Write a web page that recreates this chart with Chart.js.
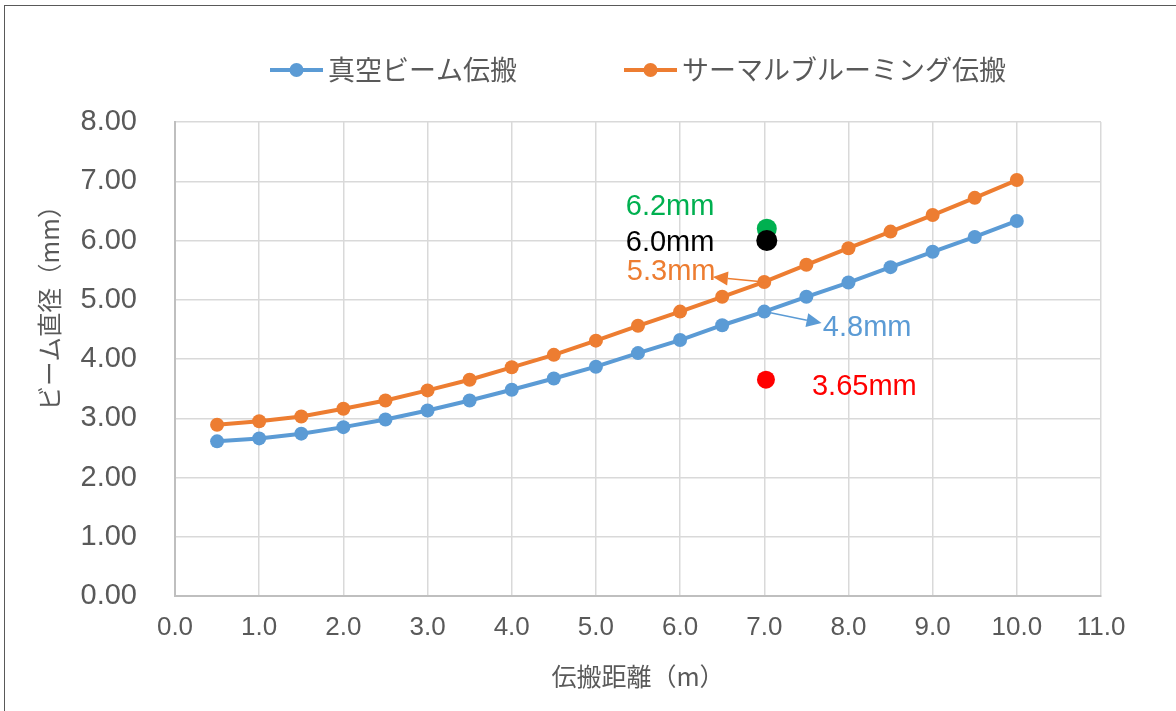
<!DOCTYPE html>
<html>
<head>
<meta charset="utf-8">
<script src="https://cdn.jsdelivr.net/npm/chart.js@4.4.1/dist/chart.umd.min.js"></script>
<style>
  html, body { margin: 0; padding: 0; background: #ffffff; }
  canvas { display: block; }
</style>
</head>
<body>
<canvas id="c" width="1176" height="711"></canvas>
<script>
// Propagation distance (m)
const distances = [0.5, 1.0, 1.5, 2.0, 2.5, 3.0, 3.5, 4.0, 4.5, 5.0, 5.5, 6.0, 6.5, 7.0, 7.5, 8.0, 8.5, 9.0, 9.5, 10.0];
// Beam diameter (mm), vacuum propagation
const vacuumDiam = [2.61, 2.66, 2.74, 2.85, 2.98, 3.13, 3.30, 3.48, 3.67, 3.87, 4.10, 4.32, 4.57, 4.80, 5.05, 5.29, 5.55, 5.81, 6.06, 6.33];
// Beam diameter (mm), thermal blooming propagation
const bloomDiam = [2.89, 2.95, 3.03, 3.16, 3.30, 3.47, 3.65, 3.86, 4.07, 4.31, 4.56, 4.80, 5.05, 5.30, 5.59, 5.87, 6.15, 6.43, 6.72, 7.02];
// Measured spots near 7 m
const measuredX = [7.03, 7.03, 7.02];
const measuredY = [6.0, 6.2, 3.65];   // black, green, red

const seriesNames = ['真空ビーム伝搬', 'サーマルブルーミング伝搬'];
const xTitle = '伝搬距離（m）';
const yTitle = 'ビーム直径（mm）';

const TEXT = '#595959';
const JP = '"Noto Sans CJK JP", "Noto Sans", sans-serif';
const LAT = '"Liberation Sans", Arial, sans-serif';
const BLUE = '#5b9bd5', ORANGE = '#ed7d31', GREEN = '#00b050', BLACK = '#000000', RED = '#ff0000';

const xy = (xs, ys) => xs.map((x, i) => ({ x, y: ys[i] }));

// White page plus the thin outer frame
const frame = {
  id: 'frame',
  beforeDraw(chart) {
    const c = chart.ctx;
    c.save();
    c.fillStyle = '#ffffff';
    c.fillRect(0, 0, chart.width, chart.height);
    c.strokeStyle = '#595959';
    c.lineWidth = 1;
    c.strokeRect(4.5, 5.5, chart.width + 20, chart.height + 20);
    c.restore();
  }
};

// Legend with line + marker symbols, centred over the plot area
const seriesLegend = {
  id: 'seriesLegend',
  afterDraw(chart, args, o) {
    const c = chart.ctx;
    c.save();
    c.font = `${o.size}px ${JP}`;
    c.textBaseline = 'middle';
    c.textAlign = 'left';
    const items = o.datasets.map(i => {
      const ds = chart.data.datasets[i];
      return { ds, w: o.sym + o.gap + c.measureText(ds.label).width };
    });
    const total = items.reduce((s, it) => s + it.w, 0) + o.spacing * (items.length - 1);
    let x = (chart.chartArea.left + chart.chartArea.right) / 2 - total / 2 + o.shift;
    const y = o.y;
    items.forEach(it => {
      c.strokeStyle = it.ds.borderColor;
      c.lineWidth = it.ds.borderWidth;
      c.beginPath(); c.moveTo(x, y); c.lineTo(x + o.sym, y); c.stroke();
      c.fillStyle = it.ds.pointBackgroundColor;
      c.beginPath(); c.arc(x + o.sym / 2, y, it.ds.pointRadius, 0, Math.PI * 2); c.fill();
      c.fillStyle = TEXT;
      c.fillText(it.ds.label, x + o.sym + o.gap, y + o.textDy);
      x += it.w + o.spacing;
    });
    c.restore();
  }
};

// Vertical y-axis title
const yAxisTitle = {
  id: 'yAxisTitle',
  afterDraw(chart, args, o) {
    const c = chart.ctx;
    c.save();
    c.translate(o.x, o.y);
    c.rotate(-Math.PI / 2);
    c.font = `${o.size}px ${JP}`;
    c.fillStyle = TEXT;
    c.textAlign = 'center';
    c.textBaseline = 'middle';
    c.fillText(o.text, 0, 0);
    c.restore();
  }
};

// Value call-outs, optionally with an arrow from the marker
const callouts = {
  id: 'callouts',
  afterDatasetsDraw(chart, args, o) {
    const c = chart.ctx;
    c.save();
    c.font = `${o.size}px ${LAT}`;
    c.textBaseline = 'middle';
    c.textAlign = 'left';
    o.items.forEach(it => {
      const p = chart.getDatasetMeta(it.dataset).data[it.index];
      if (it.tip) {
        const tx = p.x + it.tip[0], ty = p.y + it.tip[1];
        const a = Math.atan2(ty - p.y, tx - p.x);
        const bx = tx - o.head * Math.cos(a), by = ty - o.head * Math.sin(a);
        c.strokeStyle = it.color;
        c.lineWidth = o.arrowWidth;
        c.beginPath(); c.moveTo(p.x, p.y); c.lineTo(bx, by); c.stroke();
        c.fillStyle = it.color;
        c.beginPath();
        c.moveTo(tx, ty);
        c.lineTo(bx - o.headW * Math.sin(a), by + o.headW * Math.cos(a));
        c.lineTo(bx + o.headW * Math.sin(a), by - o.headW * Math.cos(a));
        c.closePath(); c.fill();
      }
      c.fillStyle = it.color;
      c.fillText(it.text, p.x + it.dx, p.y + it.dy);
    });
    c.restore();
  }
};

const iSeven = distances.indexOf(7.0);

new Chart(document.getElementById('c'), {
  type: 'scatter',
  data: {
    datasets: [
      { label: seriesNames[0], data: xy(distances, vacuumDiam), showLine: true,
        borderColor: BLUE, backgroundColor: BLUE, borderWidth: 4,
        pointBackgroundColor: BLUE, pointBorderColor: BLUE, pointBorderWidth: 0, pointRadius: 7 },
      { label: seriesNames[1], data: xy(distances, bloomDiam), showLine: true,
        borderColor: ORANGE, backgroundColor: ORANGE, borderWidth: 4,
        pointBackgroundColor: ORANGE, pointBorderColor: ORANGE, pointBorderWidth: 0, pointRadius: 7 },
      { label: 'black', data: [{ x: measuredX[0], y: measuredY[0] }],
        pointBackgroundColor: BLACK, pointBorderColor: BLACK, pointBorderWidth: 0, pointRadius: 10.5 },
      { label: 'green', data: [{ x: measuredX[1], y: measuredY[1] }],
        pointBackgroundColor: GREEN, pointBorderColor: GREEN, pointBorderWidth: 0, pointRadius: 10 },
      { label: 'red', data: [{ x: measuredX[2], y: measuredY[2] }],
        pointBackgroundColor: RED, pointBorderColor: RED, pointBorderWidth: 0, pointRadius: 9 }
    ]
  },
  options: {
    responsive: false,
    animation: false,
    devicePixelRatio: 1,
    events: [],
    layout: { padding: { top: 122, right: 75, bottom: 0, left: 0 } },
    scales: {
      x: {
        type: 'linear', min: 0, max: 11,
        afterFit(s) { s.height = 115; },
        border: { color: '#bfbfbf', width: 2 },
        grid: { color: '#d9d9d9', lineWidth: 1.5, drawTicks: false },
        ticks: { stepSize: 1, autoSkip: false, maxRotation: 0, padding: 16,
          color: TEXT, font: { family: LAT, size: 26 },
          callback: v => v.toFixed(1) },
        title: { display: true, text: xTitle, color: TEXT,
          font: { family: JP, size: 25 }, padding: { top: 0, bottom: 20 } }
      },
      y: {
        min: 0, max: 8,
        afterFit(s) { s.width = 175; },
        border: { color: '#bfbfbf', width: 2 },
        grid: { color: '#d9d9d9', lineWidth: 1.5, drawTicks: false },
        ticks: { stepSize: 1, padding: 38, color: TEXT,
          font: { family: LAT, size: 29 },
          callback: v => v.toFixed(2) }
      }
    },
    plugins: {
      legend: { display: false },
      tooltip: { enabled: false },
      seriesLegend: { datasets: [0, 1], size: 27, sym: 53, gap: 5, spacing: 107, y: 70, shift: 0, textDy: 0 },
      yAxisTitle: { text: yTitle, x: 50, y: 302, size: 24.5 },
      callouts: {
        size: 29, head: 15, headW: 7, arrowWidth: 1.5,
        items: [
          { dataset: 3, index: 0, text: `${measuredY[1].toFixed(1)}mm`, color: GREEN, dx: -141, dy: -21.5 },
          { dataset: 2, index: 0, text: `${measuredY[0].toFixed(1)}mm`, color: BLACK, dx: -141, dy: 2 },
          { dataset: 1, index: iSeven, text: `${bloomDiam[iSeven].toFixed(1)}mm`, color: ORANGE, dx: -137.4, dy: -9.7, tip: [-51.4, -4.9] },
          { dataset: 0, index: iSeven, text: `${vacuumDiam[iSeven].toFixed(1)}mm`, color: BLUE, dx: 58.6, dy: 16.7, tip: [57.3, 11.5] },
          { dataset: 4, index: 0, text: `${measuredY[2].toFixed(2)}mm`, color: RED, dx: 46, dy: 7.5 }
        ]
      }
    }
  },
  plugins: [frame, seriesLegend, yAxisTitle, callouts]
});
</script>
</body>
</html>
